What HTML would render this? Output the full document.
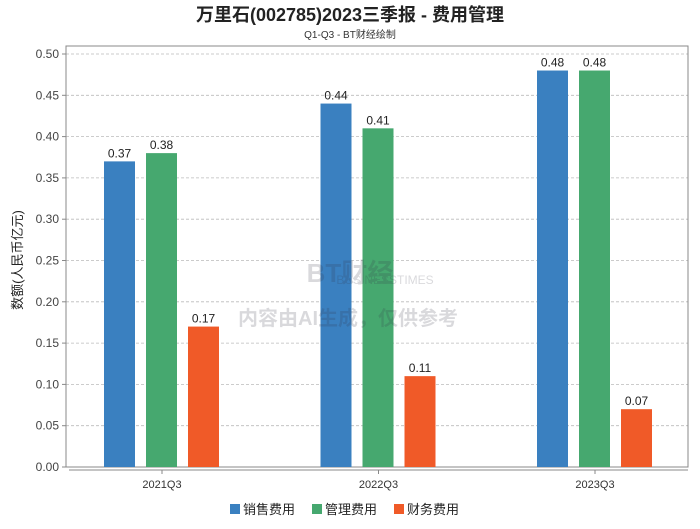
<!DOCTYPE html>
<html><head><meta charset="utf-8"><style>
body{margin:0;background:#fff;font-family:"Liberation Sans","Noto Sans CJK SC",sans-serif;}
svg text{font-family:"Liberation Sans","Noto Sans CJK SC",sans-serif;}
</style></head><body>
<svg id="chart" width="700" height="524">
<text x="350" y="21" text-anchor="middle" font-size="18" font-weight="bold" fill="#222">万里石(002785)2023三季报 - 费用管理</text>
<text x="350" y="38" text-anchor="middle" font-size="10" fill="#333">Q1-Q3 - BT财经绘制</text>
<text transform="translate(22,260) rotate(-90)" text-anchor="middle" font-size="13" fill="#222">数额(人民币亿元)</text>
<g id="plot"></g>
<g opacity="0.18">
<text x="350" y="282" text-anchor="middle" font-size="26" font-weight="bold" fill="#334" font-family="Liberation Serif">BT财经</text>
<text x="385" y="284" text-anchor="middle" font-size="12" fill="#334" font-family="Liberation Serif">BUSINESSTIMES</text>
<text x="348" y="325" text-anchor="middle" font-size="20" font-weight="bold" fill="#334">内容由AI生成，仅供参考</text>
</g>
<g>
<rect x="230" y="504" width="10" height="10" fill="#3a80c0"/>
<text x="243" y="514" font-size="13" fill="#222">销售费用</text>
<rect x="312" y="504" width="10" height="10" fill="#46a86f"/>
<text x="325" y="514" font-size="13" fill="#222">管理费用</text>
<rect x="394" y="504" width="10" height="10" fill="#f05a28"/>
<text x="407" y="514" font-size="13" fill="#222">财务费用</text>
</g>
</svg>
<script>
const categories=["2021Q3","2022Q3","2023Q3"];
const salesValues=[0.37,0.44,0.48];
const adminValues=[0.38,0.41,0.48];
const financeValues=[0.17,0.11,0.07];
const yTicks=[0,0.05,0.1,0.15,0.2,0.25,0.3,0.35,0.4,0.45,0.5];
const NS="http://www.w3.org/2000/svg";
const g=document.getElementById('plot');
const L=66,R=688,T=46,B=467,yMax=0.5,yTop=54;
const y=v=>B-(v/yMax)*(B-yTop);
const xc=i=>162+i*216.5;
function mk(tag,attrs){const e=document.createElementNS(NS,tag);for(const k in attrs)e.setAttribute(k,attrs[k]);g.appendChild(e);return e;}
yTicks.forEach(t=>{
  const gl=mk('line',{x1:L,x2:R,y1:y(t),y2:y(t),stroke:'#bbb','stroke-dasharray':'3,2','stroke-width':0.8});
  
  
  const tk=mk('line',{x1:L-4,x2:L,y1:y(t),y2:y(t),stroke:'#888'});
  
  
  const lb=mk('text',{x:L-7,y:y(t)+4,'text-anchor':'end','font-size':12,fill:'#444'});
  lb.textContent=t.toFixed(2);
  
  
});
const box=mk('rect',{x:L,y:T,width:R-L,height:B-T,fill:'none',stroke:'#888'});


const xa=mk('line',{x1:L+3,x2:R,y1:B+3,y2:B+3,stroke:'#888'});


const series=[[salesValues,'#3a80c0','sales'],[adminValues,'#46a86f','admin'],[financeValues,'#f05a28','finance']];
categories.forEach((c,i)=>{
  const tk=mk('line',{x1:xc(i),x2:xc(i),y1:B+3,y2:B+7,stroke:'#888'});
  
  
  const lb=mk('text',{x:xc(i),y:488,'text-anchor':'middle','font-size':11,fill:'#333'});
  lb.textContent=c;
  
  
  series.forEach(([vals,col,nm],s)=>{
    const x0=xc(i)-58+s*42;
    const r=mk('rect',{x:x0,y:y(vals[i]),width:31,height:B-y(vals[i]),fill:col});
    
    
    const v=mk('text',{x:x0+15.5,y:y(vals[i])-4,'text-anchor':'middle','font-size':12,fill:'#222'});
    v.textContent=vals[i].toFixed(2);
    
    
  });
});
</script>
</body></html>
